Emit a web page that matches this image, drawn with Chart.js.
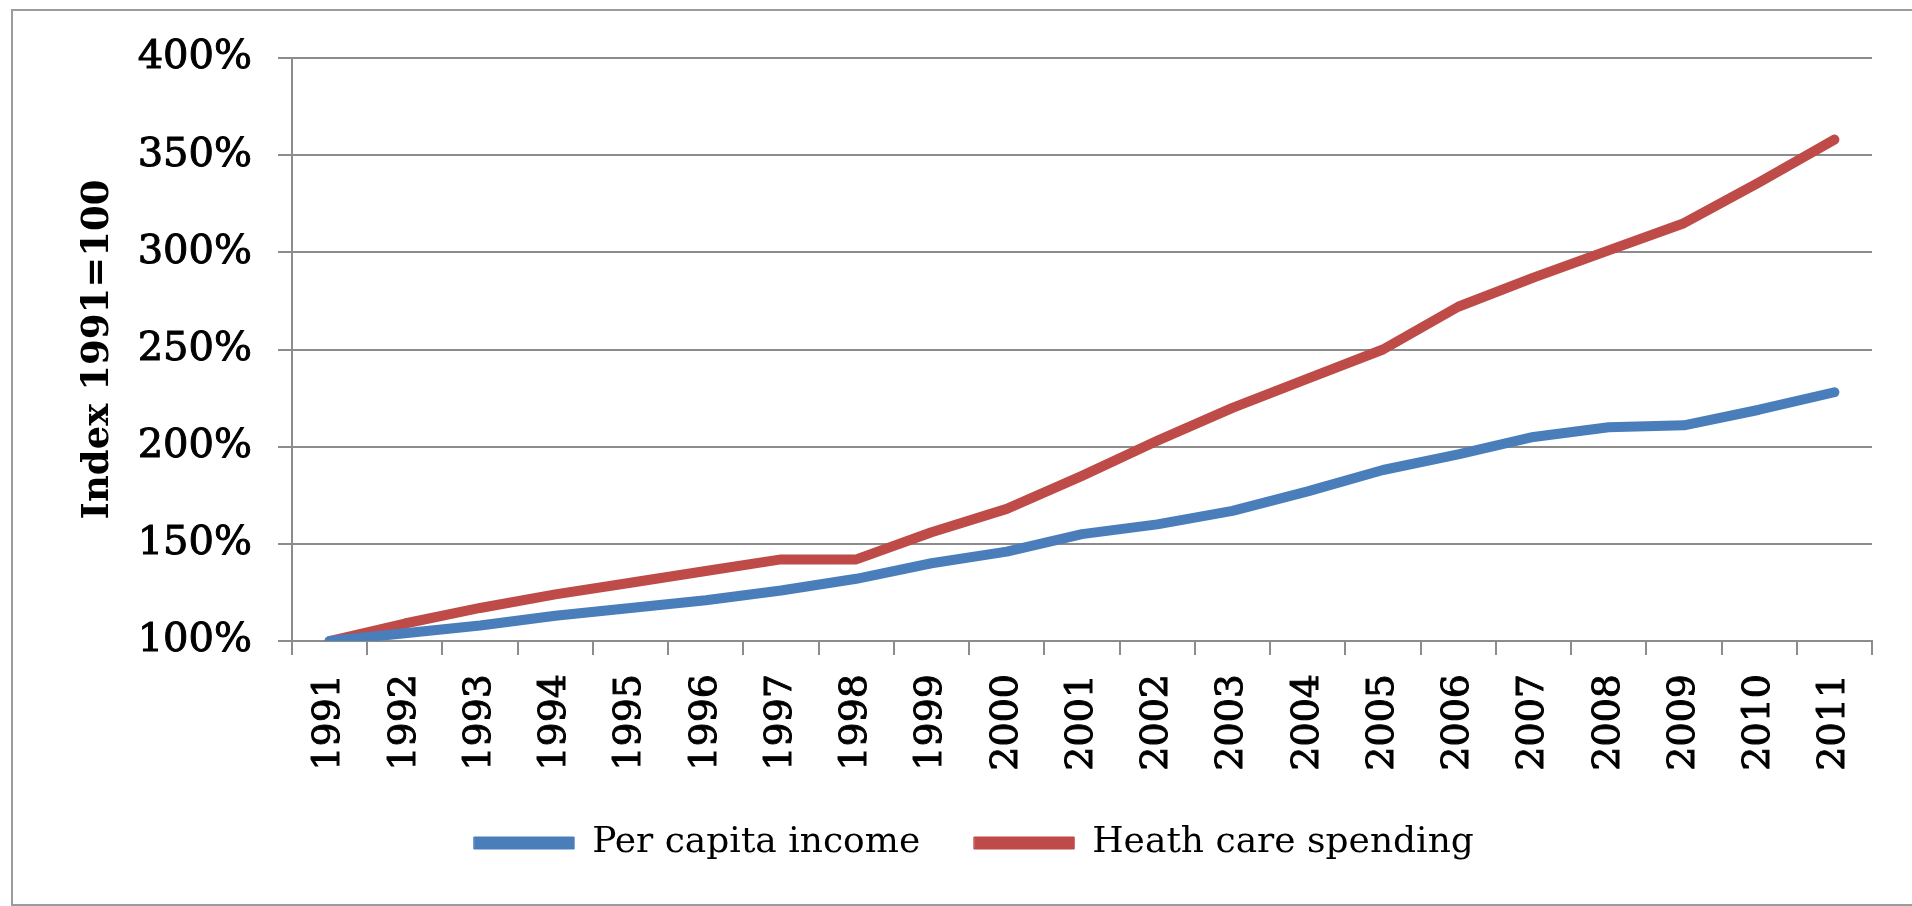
<!DOCTYPE html>
<html>
<head>
<meta charset="utf-8">
<script src="https://cdn.jsdelivr.net/npm/chart.js@4.4.0/dist/chart.umd.min.js"></script>
<style>
    html, body { margin: 0; padding: 0; background: #fff; overflow: hidden; }
    #wrap { position: relative; width: 1912px; height: 906px; }
    #frame {
        position: absolute; left: 11px; top: 9px; width: 1920px; height: 893px;
        border: 2px solid #9c9c9c; border-right: none; pointer-events: none;
    }
</style>
</head>
<body>
<div id="wrap">
    <canvas id="indexChart" width="1912" height="906"></canvas>
    <div id="frame"></div>
</div>
<script>
// Index 1991=100
const years = ['1991', '1992', '1993', '1994', '1995', '1996', '1997', '1998', '1999', '2000',
    '2001', '2002', '2003', '2004', '2005', '2006', '2007', '2008', '2009', '2010', '2011'];
const perCapitaIncome = [100, 104, 108, 113, 117, 121, 126, 132, 140, 146,
    155, 160, 167, 177, 188, 196, 205, 210, 211, 219, 228];
const healthSpending = [100, 109, 117, 124, 130, 136, 142, 142, 156, 168,
    185, 203, 220, 235, 250, 272, 287, 301, 315, 336, 358];
const yTicks = [100, 150, 200, 250, 300, 350, 400];

const gridGray = '#8c8c8c';
const serif = "'DejaVu Serif', serif";

function createIndexChart() {
    const ctx = document.getElementById('indexChart');

    new Chart(ctx, {
        type: 'line',
        data: {
            labels: years,
            datasets: [{
                label: 'Per capita income',
                data: perCapitaIncome,
                borderColor: '#4a7ebb',
                backgroundColor: '#4a7ebb',
                borderWidth: 10
            }, {
                label: 'Heath care spending',
                data: healthSpending,
                borderColor: '#be4b48',
                backgroundColor: '#be4b48',
                borderWidth: 10
            }]
        },
        options: {
            responsive: false,
            animation: false,
            devicePixelRatio: 1,
            layout: {
                padding: { left: 76, right: 40, top: 58, bottom: 35 }
            },
            elements: {
                point: { radius: 0, hoverRadius: 0 },
                line: { tension: 0, borderCapStyle: 'round', borderJoinStyle: 'round' }
            },
            scales: {
                x: {
                    offset: true,
                    grid: {
                        offset: true,
                        drawOnChartArea: false,
                        drawTicks: true,
                        tickLength: 14,
                        color: gridGray,
                        lineWidth: 2
                    },
                    border: { color: gridGray, width: 2 },
                    ticks: {
                        maxRotation: 90,
                        minRotation: 90,
                        padding: 19,
                        color: '#000',
                        textStrokeColor: '#000',
                        textStrokeWidth: 1,
                        font: { family: serif, size: 38 }
                    },
                    // labels are clipped to the axis box, so keep it tall enough
                    afterFit: function(scale) { scale.height = 130; }
                },
                y: {
                    min: 100,
                    max: 400,
                    afterBuildTicks: function(scale) {
                        scale.ticks = yTicks.map(v => ({ value: v }));
                    },
                    grid: {
                        drawTicks: true,
                        tickLength: 14,
                        color: gridGray,
                        lineWidth: 2
                    },
                    border: { color: gridGray, width: 2 },
                    ticks: {
                        padding: 26,
                        color: '#000',
                        textStrokeColor: '#000',
                        textStrokeWidth: 1,
                        font: { family: serif, size: 40 },
                        callback: v => v + '%'
                    },
                    title: {
                        display: true,
                        text: 'Index 1991=100',
                        color: '#000',
                        padding: 0,
                        font: { family: serif, size: 37, weight: 'bold' }
                    },
                    afterFit: function(scale) { scale.width = 216; }
                }
            },
            plugins: {
                legend: {
                    position: 'bottom',
                    labels: {
                        boxWidth: 100,
                        boxHeight: 12,
                        padding: 54,
                        color: '#000',
                        font: { family: serif, size: 36 },
                        generateLabels: function(chart) {
                            return Chart.defaults.plugins.legend.labels.generateLabels(chart).map(item => {
                                item.lineWidth = 1;
                                return item;
                            });
                        }
                    }
                },
                tooltip: { enabled: false }
            }
        }
    });
}

createIndexChart();
</script>
</body>
</html>
